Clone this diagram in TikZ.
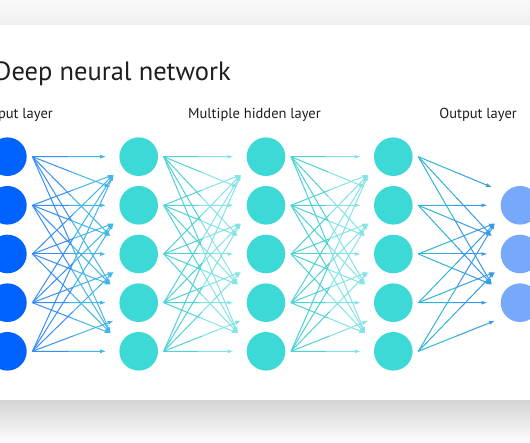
\documentclass[tikz,border=0pt]{standalone}
\usepackage{fontspec}
\setmainfont{PT Sans}
\usetikzlibrary{arrows.meta,calc}

\definecolor{inblue}{HTML}{0062FF}
\definecolor{hidcyan}{HTML}{3DD9D6}
\definecolor{outblue}{HTML}{77A8FA}
\definecolor{txtgray}{HTML}{1E1E1E}
% arrow colours
\definecolor{arrblue}{HTML}{2F73FF}
\definecolor{arrcyan}{HTML}{4ACDE2}
\definecolor{arrteal}{HTML}{2CC7CA}
\definecolor{arrpale}{HTML}{A2ECEF}
\definecolor{arrsky}{HTML}{3D8BF6}

% all links from layer #1 to the rows #3 of layer #2, fading #4 -> #5
\newcommand{\fan}[5]{%
\foreach \s in {1,...,5}{
  \foreach \t in {#3}{
    \ifnum\t=\s \def\ox{-32.5}\def\oy{0}\else
    \ifnum\t<\s \def\ox{-25}\def\oy{-18}\else \def\ox{-28}\def\oy{18}\fi\fi
    \coordinate (a) at ($(#1-\s)+(25,0)$);
    \coordinate (b) at ($(#2-\t)+(\ox,\oy)$);
    \draw[link, draw=#4!70!#5] (a) -- ($(a)!0.5!(b)$);
    \draw[link, draw=#4!25!#5, -{Latex[length=6pt,width=4pt]}] ($(a)!0.5!(b)$) -- (b);
  }
}}

\begin{document}
\begin{tikzpicture}[x=1pt,y=1pt]
\tikzstyle{neuron}=[circle, minimum size=38.6pt, inner sep=0pt]
\tikzstyle{link}=[line width=1pt]
\tikzstyle{caption}=[txtgray, inner sep=0pt, font=\fontsize{14.5}{17}\selectfont]
\useasboundingbox (0,0) rectangle (530,442);
% card and its shadow
\shade[top color=black!2, bottom color=black!6] (0,417) rectangle (530,442);
\fill[white] (0,42) rectangle (530,417);
\shade[top color=black!17, bottom color=black!1] (0,0) rectangle (530,42);
% titles
\node[txtgray, inner sep=0pt, anchor=base west, font=\fontsize{26.5}{31}\selectfont] (title) at (-6,361) {Deep neural network};
\node[caption, anchor=base east] (lin) at (53,323) {Input layer};
\node[caption, anchor=base west] (lhid) at (188,323) {Multiple hidden layer};
\node[caption, anchor=base east] (lout) at (517,323) {Output layer};
% neurons
\foreach \i/\y in {1/285.3,2/236.7,3/188,4/139.3,5/90.7}{
  \node[neuron, fill=inblue] (in-\i) at (7.4,\y) {};
  \node[neuron, fill=hidcyan] (hA-\i) at (138.7,\y) {};
  \node[neuron, fill=hidcyan] (hB-\i) at (266,\y) {};
  \node[neuron, fill=hidcyan] (hC-\i) at (393.3,\y) {};
}
\foreach \i/\y in {2/236.7,3/188,4/139.3}
  \node[neuron, fill=outblue] (out-\i) at (520,\y) {};
% links
\fan{in}{hA}{1,...,5}{arrblue}{arrcyan}
\fan{hA}{hB}{1,...,5}{arrteal}{arrpale}
\fan{hB}{hC}{1,...,5}{arrteal}{arrpale}
\fan{hC}{out}{2,3,4}{arrteal}{arrsky}
\end{tikzpicture}
\end{document}
